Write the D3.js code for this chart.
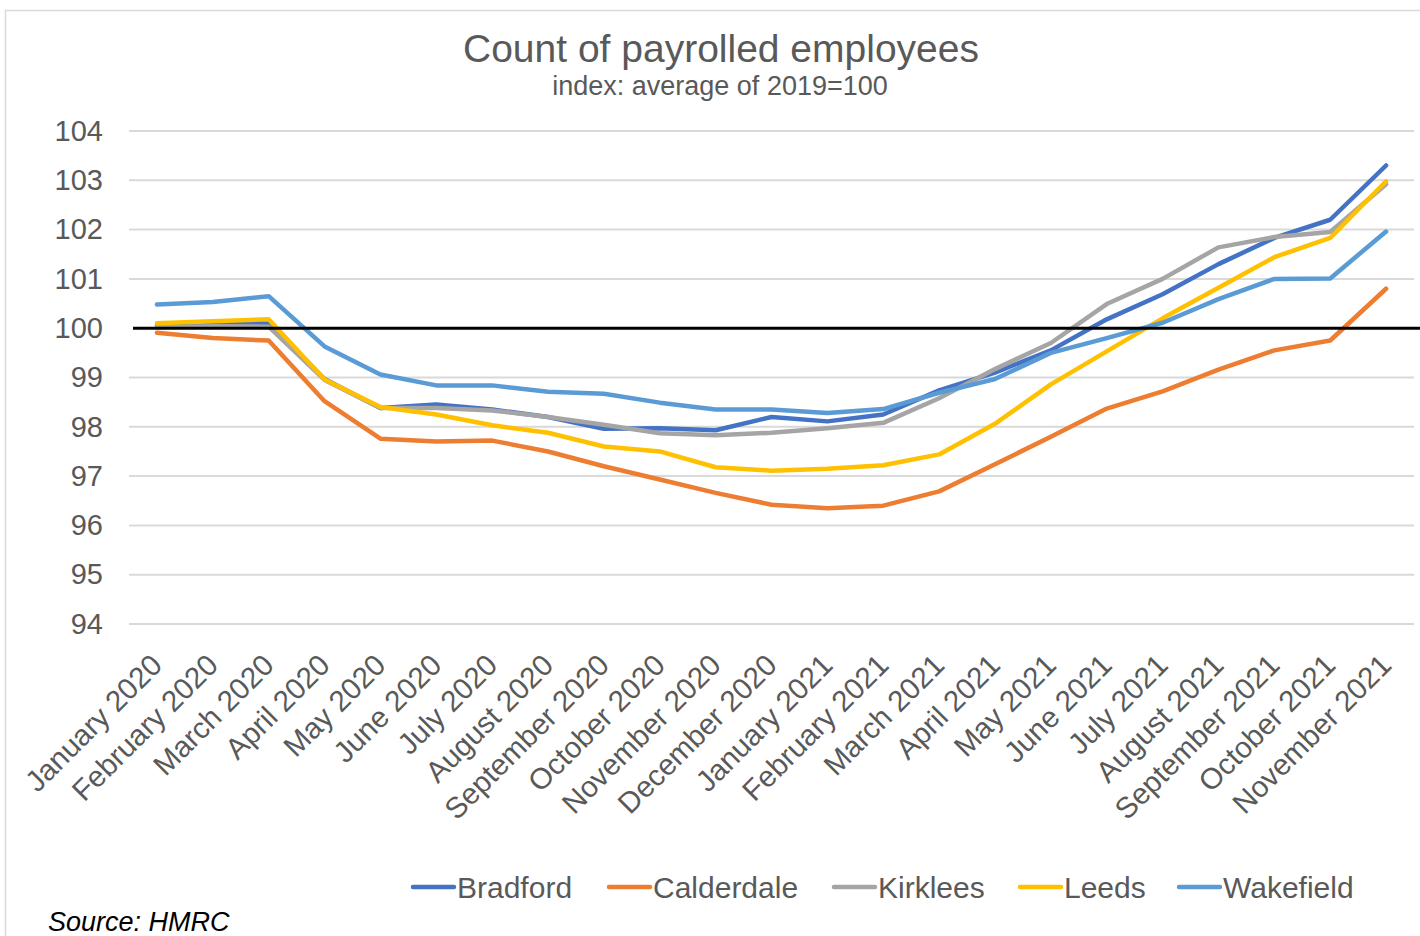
<!DOCTYPE html>
<html>
<head>
<meta charset="utf-8">
<script src="https://cdn.jsdelivr.net/npm/d3@7"></script>
<style>
  body { margin: 0; background: #fff; }
  svg text { font-family: "Liberation Sans", Arial, sans-serif; }
</style>
</head>
<body>
<svg id="chart" width="1420" height="936"></svg>
<script>
// month labels
const months = ["January 2020", "February 2020", "March 2020", "April 2020", "May 2020", "June 2020",
  "July 2020", "August 2020", "September 2020", "October 2020", "November 2020", "December 2020",
  "January 2021", "February 2021", "March 2021", "April 2021", "May 2021", "June 2021",
  "July 2021", "August 2021", "September 2021", "October 2021", "November 2021"];

// series values (index, 2019 average = 100)
const bradford = [100.05, 100.07, 100.11, 98.97, 98.38, 98.45, 98.35, 98.2, 97.96, 97.97, 97.93, 98.2,
  98.11, 98.25, 98.74, 99.1, 99.55, 100.18, 100.69, 101.3, 101.83, 102.2, 103.3];
const calderdale = [99.91, 99.8, 99.75, 98.52, 97.76, 97.7, 97.72, 97.5, 97.2, 96.93, 96.66, 96.42,
  96.35, 96.4, 96.69, 97.24, 97.8, 98.37, 98.72, 99.16, 99.55, 99.75, 100.8];
const kirklees = [100.02, 100.04, 100.03, 98.95, 98.38, 98.38, 98.33, 98.2, 98.04, 97.87, 97.83, 97.88,
  97.97, 98.08, 98.58, 99.17, 99.7, 100.49, 101.0, 101.64, 101.85, 101.95, 102.92];
const leeds = [100.1, 100.14, 100.18, 98.96, 98.4, 98.25, 98.03, 97.88, 97.6, 97.5, 97.18, 97.11,
  97.15, 97.22, 97.44, 98.06, 98.86, 99.53, 100.2, 100.82, 101.44, 101.83, 102.98];
const wakefield = [100.48, 100.53, 100.65, 99.63, 99.06, 98.84, 98.84, 98.71, 98.67, 98.49, 98.35, 98.35,
  98.28, 98.36, 98.69, 98.97, 99.5, 99.8, 100.11, 100.59, 101.0, 101.01, 101.96];

const seriesNames = ["Bradford", "Calderdale", "Kirklees", "Leeds", "Wakefield"];
const seriesColors = ["#4472C4", "#ED7D31", "#A5A5A5", "#FFC000", "#5B9BD5"];
const yTicks = [94, 95, 96, 97, 98, 99, 100, 101, 102, 103, 104];

const series = [bradford, calderdale, kirklees, leeds, wakefield].map((vals, i) => ({
  name: seriesNames[i], color: seriesColors[i], values: vals
}));

const svg = d3.select("#chart");
const textColor = "#595959";

// chart area border
svg.append("rect")
  .attr("x", 5.5).attr("y", 10.5)
  .attr("width", 1430).attr("height", 940)
  .attr("fill", "none")
  .attr("stroke", "#d9d9d9")
  .attr("stroke-width", 1.5);

// title + subtitle
svg.append("text")
  .attr("x", 721).attr("y", 62)
  .attr("text-anchor", "middle")
  .attr("fill", textColor)
  .style("font-size", "39px")
  .text("Count of payrolled employees");

svg.append("text")
  .attr("x", 720).attr("y", 95)
  .attr("text-anchor", "middle")
  .attr("fill", textColor)
  .style("font-size", "27px")
  .text("index: average of 2019=100");

// scales
const x = d3.scalePoint().domain(months).range([129, 1414]).padding(0.5);
const y = d3.scaleLinear().domain([94, 104]).range([624, 131]);

// gridlines
svg.append("g")
  .selectAll("line")
  .data(yTicks.filter(d => d !== 100))
  .join("line")
  .attr("x1", 129).attr("x2", 1414)
  .attr("y1", d => y(d)).attr("y2", d => y(d))
  .attr("stroke", "#d9d9d9")
  .attr("stroke-width", 2);

// y axis labels
const yAxis = d3.axisLeft(y).tickValues(yTicks).tickSize(0).tickPadding(0);
svg.append("g")
  .attr("transform", "translate(103,0)")
  .call(yAxis)
  .call(g => g.select(".domain").remove())
  .call(g => g.selectAll("text")
    .attr("fill", textColor)
    .style("font-size", "29px")
    .style("font-family", "'Liberation Sans', Arial, sans-serif"));

// x axis labels, rotated
const xAxis = d3.axisBottom(x).tickSize(0).tickPadding(0);
svg.append("g")
  .call(xAxis)
  .call(g => g.select(".domain").remove())
  .call(g => g.selectAll(".tick")
    .attr("transform", d => `translate(${x(d) + 7},667)`))
  .call(g => g.selectAll("text")
    .attr("y", 0).attr("dy", 0).attr("x", 0)
    .attr("transform", "rotate(-45)")
    .attr("text-anchor", "end")
    .attr("fill", textColor)
    .style("font-size", "29.5px")
    .style("font-family", "'Liberation Sans', Arial, sans-serif"));

// lines
const line = d3.line()
  .x((d, i) => x(months[i]))
  .y(d => y(d));

svg.append("g")
  .selectAll("path")
  .data(series)
  .join("path")
  .attr("d", d => line(d.values))
  .attr("fill", "none")
  .attr("stroke", d => d.color)
  .attr("stroke-width", 4.5)
  .attr("stroke-linejoin", "round")
  .attr("stroke-linecap", "round");

// 100 reference line
svg.append("line")
  .attr("x1", 133).attr("x2", 1420)
  .attr("y1", y(100)).attr("y2", y(100))
  .attr("stroke", "#000")
  .attr("stroke-width", 3);

// legend
const legendX = [413, 609, 834, 1020, 1179];
const legend = svg.append("g")
  .selectAll("g")
  .data(series)
  .join("g")
  .attr("transform", (d, i) => `translate(${legendX[i]},887)`);

legend.append("line")
  .attr("x1", 0).attr("x2", 41)
  .attr("stroke", d => d.color)
  .attr("stroke-width", 4.5)
  .attr("stroke-linecap", "round");

legend.append("text")
  .attr("x", 44).attr("y", 10.5)
  .attr("fill", textColor)
  .style("font-size", "30px")
  .text(d => d.name);

// source note
svg.append("text")
  .attr("x", 48).attr("y", 931)
  .attr("fill", "#000")
  .style("font-size", "27px")
  .style("font-style", "italic")
  .text("Source: HMRC");
</script>
</body>
</html>
